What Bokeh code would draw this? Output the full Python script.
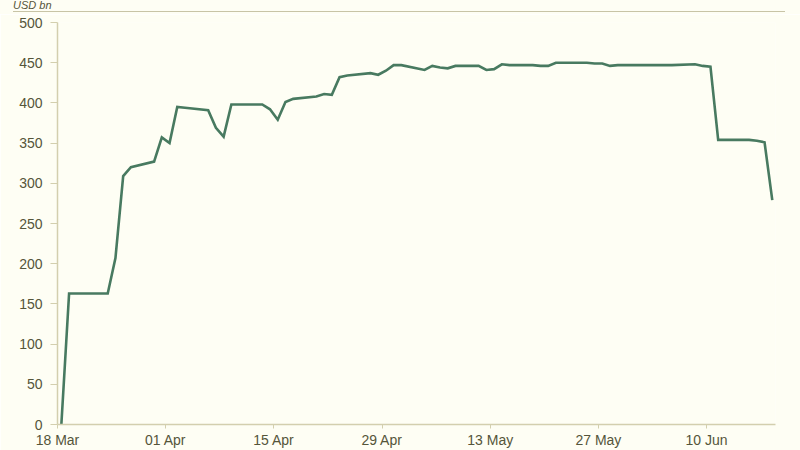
import pandas as pd
from bokeh.plotting import figure
from bokeh.layouts import column
from bokeh.models import ColumnDataSource, FixedTicker, DatetimeTickFormatter, Range1d, Div
from bokeh.embed import file_html
from bokeh.resources import INLINE

# ---- data ----
dates = [
    "2020-03-18", "2020-03-19", "2020-03-20", "2020-03-23", "2020-03-24", "2020-03-25",
    "2020-03-26", "2020-03-27", "2020-03-30", "2020-03-31",
    "2020-04-01", "2020-04-02", "2020-04-03", "2020-04-06", "2020-04-07", "2020-04-08",
    "2020-04-09", "2020-04-10", "2020-04-13", "2020-04-14", "2020-04-15", "2020-04-16",
    "2020-04-17", "2020-04-20", "2020-04-21", "2020-04-22", "2020-04-23", "2020-04-24",
    "2020-04-27", "2020-04-28", "2020-04-29", "2020-04-30",
    "2020-05-01", "2020-05-04", "2020-05-05", "2020-05-06", "2020-05-07", "2020-05-08",
    "2020-05-11", "2020-05-12", "2020-05-13", "2020-05-14", "2020-05-15", "2020-05-18",
    "2020-05-19", "2020-05-20", "2020-05-21", "2020-05-22", "2020-05-25", "2020-05-26",
    "2020-05-27", "2020-05-28", "2020-05-29",
    "2020-06-01", "2020-06-02", "2020-06-03", "2020-06-04", "2020-06-05", "2020-06-08",
    "2020-06-09", "2020-06-10", "2020-06-11", "2020-06-12", "2020-06-15", "2020-06-16",
    "2020-06-17", "2020-06-18",
]
usd_bn = [
    0, 163, 163, 163, 163, 207,
    309, 320, 327, 357,
    350, 395, 394, 391, 369, 358,
    398, 398, 398, 392, 379, 401,
    405, 408, 411, 410, 432, 434,
    437, 435, 440, 447,
    447, 441, 446, 444, 443, 446,
    446, 441, 442, 448, 447, 447,
    446, 446, 450, 450, 450, 449,
    449, 446, 447,
    447, 447, 447, 447, 447, 448,
    446, 445, 354, 354, 354, 353,
    351, 279,
]
x_tick_dates = ["2020-03-18", "2020-04-01", "2020-04-15", "2020-04-29",
                "2020-05-13", "2020-05-27", "2020-06-10"]
y_ticks = [0, 50, 100, 150, 200, 250, 300, 350, 400, 450, 500]
unit_label = "USD bn"

# ---- styling ----
BG = "#fefef4"
LINE = "#487a60"
LABEL = "#55553a"
AXIS = "#d3cfae"
RULE = "#c8c4a6"
FONT = "Liberation Sans"

# header strip: unit caption with a thin rule beneath it
header = Div(
    text=(
        '<div style="position:relative;width:800px;height:14px;overflow:hidden;">'
        f'<span style="position:absolute;left:13px;top:0px;font-family:\'{FONT}\';'
        f'font-style:italic;font-size:11px;line-height:11px;color:{LABEL};">{unit_label}</span>'
        f'<div style="position:absolute;left:13px;top:11px;width:772px;height:0;'
        f'border-top:1px solid {RULE};"></div></div>'
    ),
    width=800, height=14, margin=(0, 0, 0, 0),
    styles={"background-color": BG},
)

x = pd.to_datetime(dates) + pd.Timedelta(hours=12)
src = ColumnDataSource(dict(x=x, y=usd_bn))

p = figure(width=800, height=436, x_axis_type="datetime",
           output_backend="svg", toolbar_location=None,
           background_fill_color=BG, border_fill_color=BG,
           min_border_left=57, min_border_right=25, min_border_top=8, min_border_bottom=5,
           margin=(0, 0, 0, 0))
p.x_range = Range1d(pd.Timestamp("2020-03-18"), pd.Timestamp("2020-06-18 22:00"))
p.y_range = Range1d(0, 500)
p.outline_line_color = None
p.grid.visible = False

p.line("x", "y", source=src, line_color=LINE, line_width=2.6, line_join="miter")

xt = [pd.Timestamp(d).value // 10**6 for d in x_tick_dates]
p.xaxis.ticker = FixedTicker(ticks=xt)
p.xaxis.formatter = DatetimeTickFormatter(days="%d %b", months="%d %b", hours="%d %b")
p.yaxis.ticker = FixedTicker(ticks=y_ticks)

for ax in (p.xaxis, p.yaxis):
    ax.axis_line_color = AXIS
    ax.axis_line_width = 1.5
    ax.major_tick_line_color = AXIS
    ax.major_tick_in = 0
    ax.minor_tick_line_color = None
    ax.major_label_text_color = LABEL
    ax.major_label_text_font = FONT
    ax.major_label_text_font_size = "14px"
p.yaxis.major_tick_out = 7
p.yaxis.major_label_standoff = 8
p.xaxis.major_tick_out = 4
p.xaxis.major_label_standoff = 3

layout = column(header, p, spacing=0, margin=(0, 0, 0, 0))

open("out.html", "w").write(file_html(layout, INLINE))
